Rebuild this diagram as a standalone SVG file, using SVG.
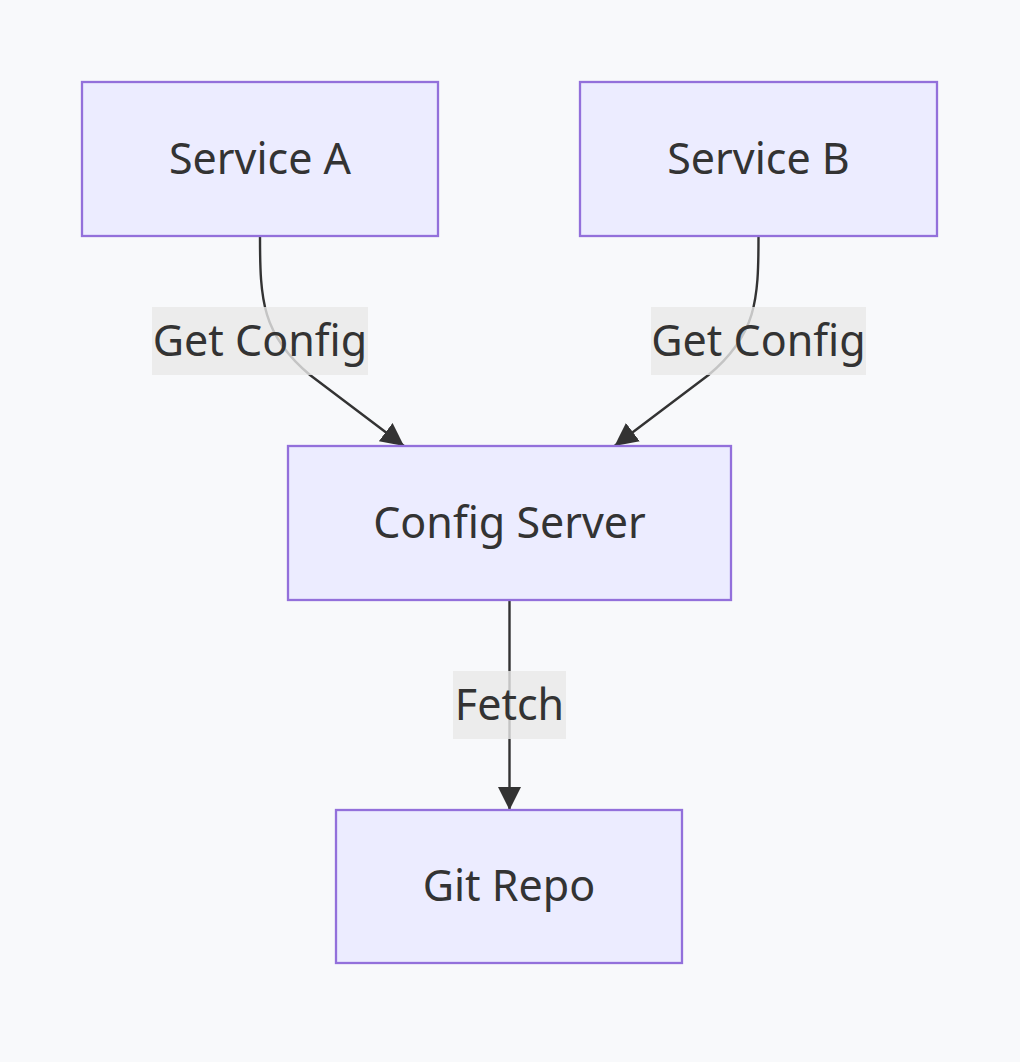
<svg xmlns="http://www.w3.org/2000/svg" width="1020" height="1062" viewBox="0 0 1020 1062">
<defs>
<style>
.node rect{fill:#ECECFF;stroke:#9370DB;stroke-width:2.3}
.lbl{font-family:"Noto Sans","Open Sans","DejaVu Sans",sans-serif;font-size:43px;fill:#333333;text-anchor:middle;dominant-baseline:central}
.edge{fill:none;stroke:#333333;stroke-width:2.4}
.elbg{fill:#E8E8E8;fill-opacity:0.8}
</style>
<marker id="arrow" viewBox="0 0 10 10" refX="10" refY="5" markerUnits="userSpaceOnUse" markerWidth="23" markerHeight="23" orient="auto">
<path d="M0,0 L10,5 L0,10 z" fill="#333333"/>
</marker>
</defs>
<rect width="1020" height="1062" fill="#F8F9FB"/>
<g id="connectors">
<path class="edge" d="M260,237 C260,300 262,335 310,375 L404,446" marker-end="url(#arrow)"/>
<path class="edge" d="M758.5,237 C758.5,300 756.5,335 708.5,375 L614.5,446" marker-end="url(#arrow)"/>
<path class="edge" d="M509.5,601 L509.5,810" marker-end="url(#arrow)"/>
<g id="label-a"><rect class="elbg" x="152" y="307" width="216" height="68"/><text class="lbl" x="260" y="339">Get Config</text></g>
<g id="label-b"><rect class="elbg" x="651" y="307" width="215" height="68"/><text class="lbl" x="758.5" y="339">Get Config</text></g>
<g id="label-fetch"><rect class="elbg" x="453" y="671" width="113" height="68"/><text class="lbl" x="509.5" y="703">Fetch</text></g>
</g>
<g id="service-a" class="node"><rect x="82" y="82" width="356" height="154"/><text class="lbl" x="260" y="157">Service A</text></g>
<g id="service-b" class="node"><rect x="580" y="82" width="357" height="154"/><text class="lbl" x="758.5" y="157">Service B</text></g>
<g id="config-server" class="node"><rect x="288" y="446" width="443" height="154"/><text class="lbl" x="509.5" y="521">Config Server</text></g>
<g id="git-repo" class="node"><rect x="336" y="810" width="346" height="153"/><text class="lbl" x="509" y="884">Git Repo</text></g>
</svg>
